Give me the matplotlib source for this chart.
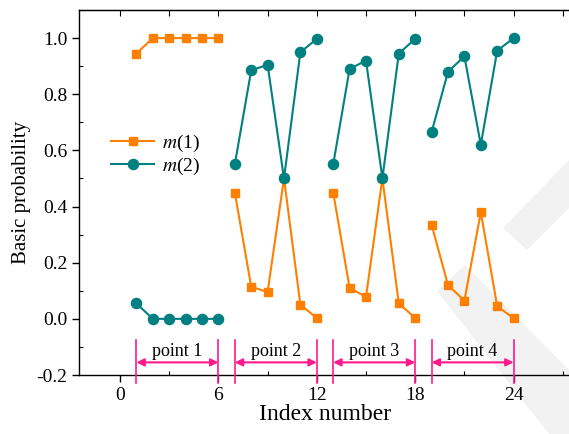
import matplotlib
matplotlib.use("Agg")
import matplotlib.pyplot as plt
from matplotlib.patches import Polygon
from matplotlib.ticker import MultipleLocator

plt.rcParams['font.family'] = ['Liberation Serif', 'DejaVu Serif']
plt.rcParams['mathtext.fontset'] = 'stix'
plt.rcParams['axes.unicode_minus'] = False

# basic probability assignments for the four measurement points
idx_groups = [[1, 2, 3, 4, 5, 6], [7, 8, 9, 10, 11, 12],
              [13, 14, 15, 16, 17, 18], [19, 20, 21, 22, 23, 24]]
m1_groups = [[0.945, 1.0, 1.0, 1.0, 1.0, 1.0],
             [0.45, 0.115, 0.095, 0.50, 0.05, 0.003],
             [0.45, 0.11, 0.078, 0.50, 0.055, 0.003],
             [0.335, 0.12, 0.065, 0.38, 0.045, 0.002]]
m2_groups = [[0.055, 0.0, 0.0, 0.0, 0.0, 0.0],
             [0.55, 0.885, 0.905, 0.50, 0.95, 0.997],
             [0.55, 0.89, 0.92, 0.50, 0.945, 0.997],
             [0.665, 0.88, 0.935, 0.62, 0.955, 1.0]]
point_labels = ["point 1", "point 2", "point 3", "point 4"]

orange = "#ff8000"
teal = "#008080"
pink = "#ff1a8c"

W, H = 569, 434
fig = plt.figure(figsize=(W / 100, H / 100), dpi=100)

# light grey background mark at the lower right
def px(pts):
    return [(x / W, 1 - y / H) for x, y in pts]

for pts in ([(437, 291), (465, 265), (569, 370), (569, 434), (549, 434)],
            [(503, 228), (527, 250), (569, 208), (569, 160)]):
    fig.patches.append(Polygon(px(pts), closed=True, transform=fig.transFigure,
                               facecolor="#f2f2f2", edgecolor="none", zorder=-5))

ax = fig.add_axes([79 / W, (H - 375) / H, 492 / W, 365 / H])
ax.patch.set_alpha(0)

for k, (xs, a, b) in enumerate(zip(idx_groups, m1_groups, m2_groups)):
    ax.plot(xs, a, color=orange, marker="s", markersize=6.3, lw=1.5,
            label="$m$(1)" if k == 0 else None, zorder=3)
    ax.plot(xs, b, color=teal, marker="o", markersize=7.3, lw=1.5,
            label="$m$(2)" if k == 0 else None, zorder=3)

# bracket arrows marking each point
for xs, lab in zip(idx_groups, point_labels):
    x0, x1 = xs[0], xs[-1]
    for xv in (x0, x1):
        ax.plot([xv, xv], [-0.075, -0.228], color=pink, lw=1.2, clip_on=False, zorder=4)
    ax.annotate("", xy=(x1, -0.155), xytext=(x0, -0.155),
                arrowprops=dict(arrowstyle="<|-|>", color=pink, lw=1.5,
                                mutation_scale=11, shrinkA=0, shrinkB=0))
    ax.text((x0 + x1) / 2, -0.117, lab, ha="center", va="center", fontsize=13)

ax.set_xlim(-2.5, 27.5)
ax.set_ylim(-0.2, 1.1)
ax.spines["right"].set_visible(False)
for s in ax.spines.values():
    s.set_linewidth(1.0)

ax.xaxis.set_major_locator(MultipleLocator(6))
ax.xaxis.set_minor_locator(MultipleLocator(3))
ax.yaxis.set_major_locator(MultipleLocator(0.2))
ax.yaxis.set_minor_locator(MultipleLocator(0.1))
ax.yaxis.set_major_formatter(matplotlib.ticker.FormatStrFormatter("%.1f"))
ax.tick_params(which="major", direction="out", length=5, width=1, labelsize=14)
ax.tick_params(which="minor", direction="in", length=3, width=0.8)

top = ax.secondary_xaxis("top")
top.xaxis.set_major_locator(MultipleLocator(3))
top.tick_params(which="major", direction="in", length=4, width=0.8, labeltop=False)
top.xaxis.set_minor_locator(matplotlib.ticker.NullLocator())

ax.set_xlabel("Index number", fontsize=17, labelpad=0)
ax.set_ylabel("Basic probability", fontsize=15, labelpad=4)

ax.legend(loc="upper left", bbox_to_anchor=(0.046, 0.69), frameon=False,
          fontsize=14, handlelength=2.2, borderpad=0, labelspacing=0.1,
          handletextpad=0.4)

fig.savefig("out.png", dpi=100)
